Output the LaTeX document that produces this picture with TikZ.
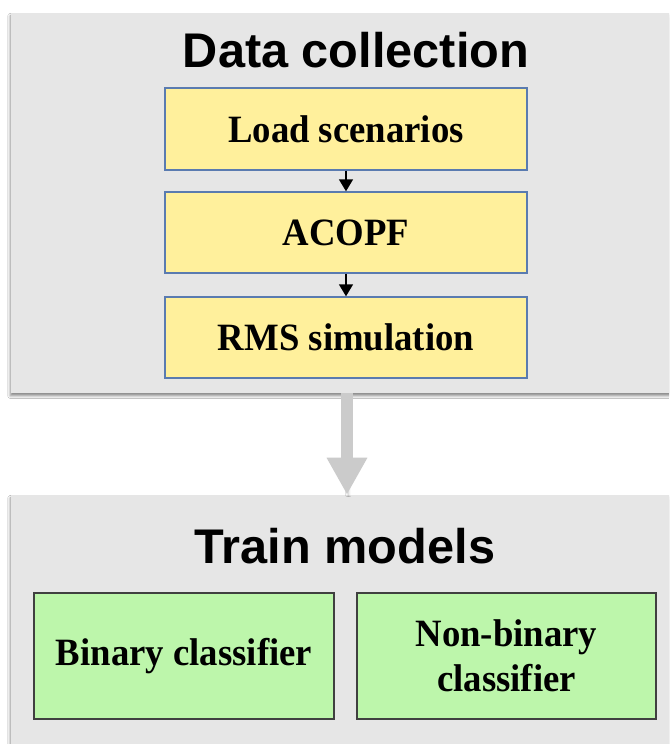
\documentclass[tikz,border=0pt]{standalone}
\usepackage{fontspec}
\setmainfont{Liberation Serif}
\newfontfamily\titlefont{Liberation Sans Bold}
\newfontfamily\boxfont{Liberation Serif Bold}[FakeStretch=0.95]
\usetikzlibrary{arrows.meta,shadows.blur}

\definecolor{panelgray}{HTML}{E6E6E6}
\definecolor{stepyellow}{HTML}{FFF09C}
\definecolor{stepedge}{HTML}{5A7BB0}
\definecolor{modelgreen}{HTML}{BDF6AB}
\definecolor{modeledge}{HTML}{404040}
\definecolor{flowgray}{HTML}{CBCBCB}

\tikzset{
  panel/.style={fill=panelgray, draw=none, inner sep=0pt,
    blur shadow={shadow xshift=-0.6pt, shadow yshift=-2.2pt,
      shadow blur steps=6, shadow opacity=45}},
  paneltitle/.style={font=\titlefont\fontsize{36.5pt}{40pt}\selectfont, anchor=base, inner sep=0pt},
  stepbox/.style={fill=stepyellow, draw=stepedge, line width=0.8pt,
    minimum width=271.5pt, inner sep=0pt, align=center,
    font=\boxfont\fontsize{29pt}{33.75pt}\selectfont},
  modelbox/.style={fill=modelgreen, draw=modeledge, line width=0.8pt,
    minimum height=94.5pt, inner sep=0pt, align=center,
    font=\boxfont\fontsize{29pt}{33.75pt}\selectfont},
  smallflow/.style={line width=2.2pt, -{Triangle[width=10pt,length=9pt]}},
  bigflow/.style={line width=9pt, flowgray, -{Triangle[width=28.5pt,length=27.75pt]},
    blur shadow={shadow xshift=1pt, shadow yshift=-1pt, shadow blur steps=4, shadow opacity=25}},
}

\begin{document}
\begin{tikzpicture}[x=0.75pt, y=-0.75pt]
  \clip (0,0) rectangle (669,744);
  \fill[white] (0,0) rectangle (669,744);

  % the two stage panels, running past the right edge
  \node[panel, minimum width=509.25pt, minimum height=285pt] (top) at (350.5,203) {};
  \node[panel, minimum width=509.25pt, minimum height=198.75pt] (bot) at (350.5,627.5) {};

  % stage titles
  \node[paneltitle] (toptitle) at (356,67) {Data collection};
  \node[paneltitle] (bottitle) at (345,563) {Train models};

  % data collection steps
  \node[stepbox, minimum height=61.5pt] (load) at (346,129) {Load scenarios};
  \node[stepbox, minimum height=60.75pt] (opf) at (346,232.5) {ACOPF};
  \node[stepbox, minimum height=60.75pt] (rms) at (346,337.5) {RMS simulation};

  \draw[smallflow] (load.south) -- (opf.north);
  \draw[smallflow] (opf.south) -- (rms.north);

  % hand-over between the stages
  \draw[bigflow] ([xshift=0.75pt]rms.south |- top.south) -- ([xshift=0.75pt]rms.south |- bot.north);

  % models
  \node[modelbox, minimum width=225pt] (binary) at (184,656) {Binary classifier};
  \node[modelbox, minimum width=224.25pt] (nonbinary) at (506.5,656) {Non-binary\\classifier};
\end{tikzpicture}
\end{document}
